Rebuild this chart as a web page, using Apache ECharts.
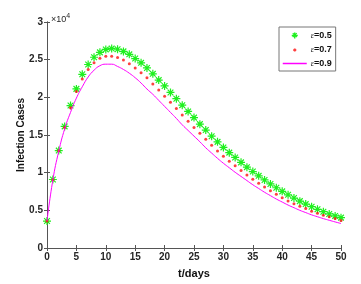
<!DOCTYPE html>
<html>
<head>
<meta charset="utf-8">
<script src="https://cdn.jsdelivr.net/npm/echarts@6/dist/echarts.min.js"></script>
<style>
html,body{margin:0;padding:0;background:#fff;}
#c{width:361px;height:284px;}
</style>
</head>
<body>
<div id="c"></div>
<script>
var days = [];
for (var i = 0; i <= 50; i++) days.push(i);

var seriesNames = ['ε=0.5', 'ε=0.7', 'ε=0.9'];

var eps05 = [3580, 9090, 12930, 16140, 18910, 21120, 23060, 24360, 25320, 25970,
  26360, 26490, 26380, 26100, 25710, 25150, 24580, 23900, 23120, 22290,
  21510, 20650, 19820, 18960, 18130, 17310, 16440, 15660, 14840, 14090,
  13350, 12660, 12020, 11370, 10730, 10150, 9580, 9030, 8500, 8000,
  7520, 7060, 6630, 6220, 5830, 5480, 5140, 4820, 4520, 4260, 4030];

var eps07 = [3580, 9050, 12900, 15980, 18610, 20780, 22420, 23680, 24580, 25190,
  25450, 25450, 25300, 24940, 24450, 23900, 23250, 22600, 21770, 20990,
  20130, 19350, 18520, 17660, 16830, 16010, 15230, 14420, 13640, 12870,
  12180, 11530, 10910, 10300, 9690, 9130, 8610, 8090, 7610, 7140,
  6660, 6230, 5880, 5530, 5230, 4880, 4620, 4360, 4160, 3900, 3640];

var eps09 = [3580, 9050, 12850, 15800, 18000, 19900, 21400, 22700, 23600, 24200,
  24400, 24400, 24100, 23700, 23200, 22600, 21900, 21100, 20400, 19600,
  18800, 18000, 17200, 16350, 15600, 14850, 14100, 13300, 12600, 11900,
  11250, 10650, 10050, 9500, 8950, 8400, 7900, 7400, 6950, 6500,
  6100, 5700, 5350, 5000, 4700, 4400, 4150, 3900, 3680, 3460, 3250];

var xTicks = [0, 5, 10, 15, 20, 25, 30, 35, 40, 45, 50];
var yTicks = [0, 0.5, 1, 1.5, 2, 2.5, 3];

function pairs(vals) { return days.map(function (d, i) { return [d, vals[i]]; }); }

var starPath = 'path://M8.5 0H11.5V20H8.5Z M0 8.5H20V11.5H0Z M1.8 3.9L3.9 1.8L18.2 16.1L16.1 18.2Z M16.1 1.8L18.2 3.9L3.9 18.2L1.8 16.1Z';
// legend icons (bounding box set by the leading moves so the mark keeps its real size)
var starIcon = 'path://M0 0M24 7M11.3 0.5H12.7V6.5H11.3Z M9 2.8H15V4.2H9Z M9.6 1.6L10.4 0.8L14.4 4.8L13.6 5.6Z M13.6 0.8L14.4 1.6L10.4 5.6L9.6 4.8Z';
var dotIcon = 'path://M0 0M24 7M11.4 2.5H12.6L13.5 3.4V4.6L12.6 5.5H11.4L10.5 4.6V3.4Z';

var axisCol = '#555';
var labelStyle = { color: '#262626', fontSize: 10, fontWeight: 'bold', fontFamily: 'Liberation Sans, Arial, sans-serif' };

var chart = echarts.init(document.getElementById('c'), null, { renderer: 'canvas' });
chart.setOption({
  animation: false,
  backgroundColor: '#fff',
  color: ['#1ef01e', '#ff1010', '#ff00ff'],
  title: {
    left: 46, top: 8,
    text: '×10{s|4}',
    textStyle: {
      fontSize: 9, fontWeight: 'normal', color: '#262626', fontFamily: 'Liberation Sans, Arial, sans-serif',
      rich: { s: { fontSize: 7, verticalAlign: 'top', padding: [0, 0, 6, 0], color: '#262626' } }
    }
  },
  grid: { left: 47, right: 20, top: 22, bottom: 31, containLabel: false },
  legend: {
    orient: 'vertical',
    left: 279, top: 27,
    padding: [4, 4, 3, 3],
    itemGap: 5,
    itemWidth: 24, itemHeight: 7,
    backgroundColor: '#fff',
    borderColor: '#777', borderWidth: 1, borderRadius: 0,
    data: [
      { name: seriesNames[0], icon: starIcon },
      { name: seriesNames[1], icon: dotIcon },
      { name: seriesNames[2], itemStyle: { opacity: 0 },
        lineStyle: { color: '#ff00ff', width: 1.5, opacity: 1 } }
    ],
    formatter: function (name) { return '{e|ε}{v|' + name.slice(1) + '}'; },
    textStyle: {
      color: '#111', fontSize: 9, fontFamily: 'Liberation Sans, Arial, sans-serif', padding: [0, 0, 0, -1],
      rich: {
        e: { fontStyle: 'italic', fontSize: 8, color: '#111', fontFamily: 'Liberation Serif, serif' },
        v: { fontWeight: 'bold', fontSize: 9, color: '#111', fontFamily: 'Liberation Sans, Arial, sans-serif' }
      }
    }
  },
  xAxis: [{
    type: 'value', min: 0, max: 50, interval: 5, position: 'bottom',
    name: 't/days', nameLocation: 'middle', nameGap: 20, nameMoveOverlap: false,
    nameTextStyle: { color: '#111', fontSize: 11, fontWeight: 'bold', fontFamily: 'Liberation Sans, Arial, sans-serif' },
    axisLine: { lineStyle: { color: axisCol, width: 1 } },
    axisTick: { inside: true, length: 3, lineStyle: { color: axisCol } },
    axisLabel: Object.assign({ margin: 4, formatter: function (v) { return xTicks.indexOf(v) >= 0 ? String(v) : ''; } }, labelStyle),
    splitLine: { show: false }
  }, {
    type: 'value', min: 0, max: 50, interval: 5, position: 'top',
    axisLine: { lineStyle: { color: axisCol, width: 1 } },
    axisTick: { inside: true, length: 3, lineStyle: { color: axisCol } },
    axisLabel: { show: false }, splitLine: { show: false }
  }],
  yAxis: [{
    type: 'value', min: 0, max: 30000, interval: 5000, position: 'left',
    name: 'Infection Cases', nameLocation: 'middle', nameGap: 21, nameMoveOverlap: false,
    nameTextStyle: { color: '#111', fontSize: 10, fontWeight: 'bold', fontFamily: 'Liberation Sans, Arial, sans-serif' },
    axisLine: { show: true, lineStyle: { color: axisCol, width: 1 } },
    axisTick: { show: true, inside: true, length: 3, lineStyle: { color: axisCol } },
    axisLabel: Object.assign({ margin: 4, formatter: function (v) { return String(yTicks[Math.round(v / 5000)]); } }, labelStyle),
    splitLine: { show: false }
  }, {
    type: 'value', min: 0, max: 30000, interval: 5000, position: 'right',
    axisLine: { show: true, lineStyle: { color: axisCol, width: 1 } },
    axisTick: { show: true, inside: true, length: 3, lineStyle: { color: axisCol } },
    axisLabel: { show: false }, splitLine: { show: false }
  }],
  series: [{
    name: seriesNames[0], type: 'scatter', xAxisIndex: 0, yAxisIndex: 0,
    symbol: starPath, symbolSize: 8, color: '#1ef01e',
    itemStyle: { color: '#1ef01e', opacity: 1 },
    data: pairs(eps05)
  }, {
    name: seriesNames[1], type: 'scatter', xAxisIndex: 0, yAxisIndex: 0,
    symbol: 'circle', symbolSize: 3, color: '#ff1010',
    itemStyle: { color: '#ff1010' },
    data: pairs(eps07)
  }, {
    name: seriesNames[2], type: 'line', xAxisIndex: 0, yAxisIndex: 0,
    smooth: true, showSymbol: false, symbol: 'none', color: '#ff00ff',
    lineStyle: { color: '#ff00ff', width: 1 },
    itemStyle: { color: '#ff00ff' },
    data: pairs(eps09)
  }]
});
</script>
</body>
</html>
